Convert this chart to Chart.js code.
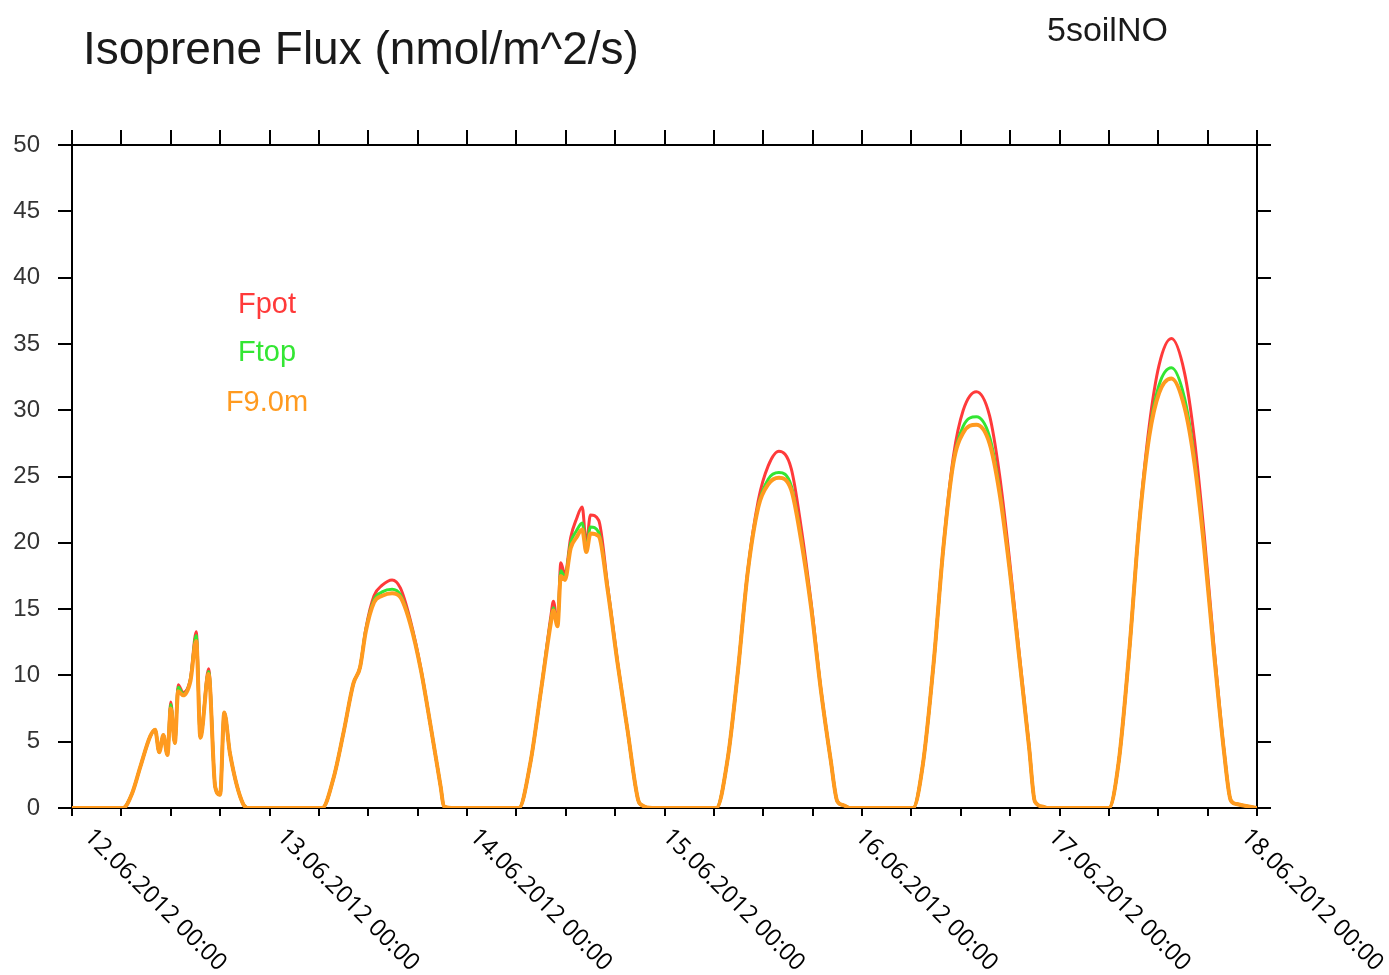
<!DOCTYPE html>
<html>
<head>
<meta charset="utf-8">
<title>Isoprene Flux</title>
<script src="https://cdn.jsdelivr.net/npm/chart.js@4.4.1/dist/chart.umd.min.js"></script>
<style>
  html, body { margin: 0; padding: 0; background: #fff; }
  canvas { display: block; }
</style>
</head>
<body>
<canvas id="flux-chart" width="1389" height="975"></canvas>
<script>
// hours since 12.06.2012 00:00
var hours = [
  0, 6.2, 7.3, 8.3, 9.5, 10.1, 10.6, 11.1, 11.6, 12.0, 12.5, 12.9, 13.5, 14.4, 15.1, 15.6, 16.6, 17.4, 18.0, 18.5, 19.2, 20.8, 21.5,
  30.4, 31.8, 33.0, 34.2, 35.0, 35.7, 36.7, 37.7, 38.9, 39.9, 41.1, 42.4, 43.6, 44.8, 45.2, 46.5,
  54.3, 55.7, 57.0, 58.2, 58.5, 59.0, 59.4, 59.9, 60.6, 61.3, 62.0, 62.5, 63.0, 64.0, 65.1, 66.3, 67.5, 68.8, 69.3, 70.5,
  78.3, 79.7, 80.9, 82.1, 83.4, 84.6, 85.9, 87.4, 88.6, 89.8, 91.0, 92.2, 93.0, 93.8, 94.5,
  102.2, 103.4, 104.7, 105.9, 107.1, 108.3, 109.9, 111.5, 112.7, 113.9, 115.1, 116.3, 117.0, 118.0, 118.6,
  126.0, 127.2, 128.5, 129.7, 130.9, 132.1, 133.6, 135.2, 136.4, 137.6, 138.8, 140.0, 140.8, 141.5, 144
];

var fpot = [
  0, 0, 1.1, 3.1, 5.4, 5.9, 4.2, 5.5, 4.0, 8.0, 4.9, 9.3, 8.7, 9.8, 13.3, 5.3, 10.5, 1.6, 1.0, 7.2, 4.1, 0.3, 0,
  0, 2.3, 5.7, 9.4, 10.6, 13.5, 16.0, 16.8, 17.2, 16.6, 14.2, 10.5, 6.1, 1.6, 0.1, 0,
  0, 3.4, 8.9, 14.5, 15.6, 13.9, 18.5, 17.6, 20.4, 21.8, 22.7, 19.9, 22.1, 21.7, 16.7, 11.0, 5.9, 0.6, 0.2, 0,
  0, 3.8, 10.2, 17.8, 23.2, 25.8, 26.9, 25.6, 21.2, 15.6, 9.0, 3.6, 0.5, 0.2, 0,
  0, 3.3, 10.9, 19.8, 26.5, 30.0, 31.4, 29.6, 25.2, 18.9, 11.7, 4.7, 0.5, 0.1, 0,
  0, 3.5, 12.0, 21.6, 28.8, 33.4, 35.4, 32.8, 27.8, 20.5, 12.0, 4.3, 0.6, 0.3, 0
];

var ftop = [
  0, 0, 1.1, 3.1, 5.4, 5.9, 4.2, 5.5, 4.0, 7.8, 4.9, 9.1, 8.6, 9.7, 13.0, 5.3, 10.3, 1.6, 1.0, 7.2, 4.1, 0.3, 0,
  0, 2.3, 5.7, 9.4, 10.6, 13.4, 15.7, 16.3, 16.5, 16.1, 14.0, 10.4, 6.1, 1.6, 0.1, 0,
  0, 3.4, 8.9, 14.2, 15.1, 13.8, 17.9, 17.4, 20.0, 20.9, 21.5, 19.6, 21.2, 20.8, 16.5, 10.9, 5.9, 0.6, 0.2, 0,
  0, 3.8, 10.2, 17.7, 22.8, 24.8, 25.3, 24.3, 20.4, 15.3, 8.9, 3.6, 0.5, 0.2, 0,
  0, 3.3, 10.9, 19.7, 26.1, 28.8, 29.5, 28.0, 24.1, 18.3, 11.4, 4.6, 0.5, 0.1, 0,
  0, 3.5, 12.0, 21.5, 28.2, 31.9, 33.2, 30.9, 26.4, 19.7, 11.6, 4.2, 0.6, 0.3, 0
];

var f9m = [
  0, 0, 1.1, 3.1, 5.4, 5.9, 4.2, 5.5, 4.0, 7.5, 4.9, 8.8, 8.5, 9.6, 12.6, 5.3, 10.1, 1.6, 1.0, 7.2, 4.1, 0.3, 0,
  0, 2.3, 5.7, 9.4, 10.6, 13.3, 15.5, 16.0, 16.2, 15.9, 13.9, 10.4, 6.1, 1.6, 0.1, 0,
  0, 3.4, 8.9, 14.0, 14.9, 13.7, 17.5, 17.2, 19.6, 20.4, 21.0, 19.3, 20.7, 20.5, 16.4, 10.9, 5.9, 0.6, 0.2, 0,
  0, 3.8, 10.2, 17.7, 22.7, 24.4, 24.9, 24.0, 20.2, 15.2, 8.9, 3.6, 0.5, 0.2, 0,
  0, 3.3, 10.9, 19.7, 26.0, 28.3, 28.9, 27.5, 23.8, 18.2, 11.4, 4.6, 0.5, 0.1, 0,
  0, 3.5, 12.0, 21.5, 28.0, 31.3, 32.4, 30.2, 26.0, 19.5, 11.5, 4.2, 0.6, 0.3, 0
];

var seriesNames = ["Fpot", "Ftop", "F9.0m"];
var seriesColors = ["#ff3a3a", "#33e633", "#ff9a1f"];
var dayLabels = [
  "12.06.2012 00:00", "13.06.2012 00:00", "14.06.2012 00:00", "15.06.2012 00:00",
  "16.06.2012 00:00", "17.06.2012 00:00", "18.06.2012 00:00"
];

function toPoints(values) {
  return hours.map(function (h, i) { return { x: h, y: values[i] }; });
}

// titles, legend text and slanted date labels
var textPlugin = {
  id: "texts",
  afterDraw: function (chart) {
    var ctx = chart.ctx;
    var xs = chart.scales.x;
    ctx.save();
    ctx.fillStyle = "#1a1a1a";
    ctx.textBaseline = "alphabetic";
    ctx.textAlign = "left";
    ctx.font = "46px 'Liberation Sans', Arial, sans-serif";
    ctx.fillText("Isoprene Flux (nmol/m^2/s)", 83, 64);
    ctx.font = "34px 'Liberation Sans', Arial, sans-serif";
    ctx.fillText("5soilNO", 1047, 41);

    ctx.textAlign = "center";
    ctx.font = "29px 'Liberation Sans', Arial, sans-serif";
    var legendY = [313, 361, 411];
    seriesNames.forEach(function (name, i) {
      ctx.fillStyle = seriesColors[i];
      ctx.fillText(name, 267, legendY[i]);
    });

    ctx.fillStyle = "#000";
    ctx.font = "24px 'Open Sans', 'Noto Sans', sans-serif";
    ctx.textAlign = "left";
    ctx.textBaseline = "middle";
    dayLabels.forEach(function (label, i) {
      var px = xs.getPixelForValue(i * 24) + 16 - 4.7 * i;
      ctx.save();
      ctx.translate(px, xs.top + 25);
      ctx.rotate(Math.PI / 4);
      ctx.fillText(label, 0, 0);
      ctx.restore();
    });
    ctx.restore();
  }
};

var tickGrid = function (len) {
  return {
    drawOnChartArea: false,
    drawTicks: true,
    tickLength: len,
    tickColor: "#000",
    lineWidth: 2,
    color: "#000"
  };
};
var axisBorder = { display: true, color: "#000", width: 2 };

var ctx = document.getElementById("flux-chart").getContext("2d");
var fluxChart = new Chart(ctx, {
  type: "line",
  data: {
    datasets: [
      {
        label: seriesNames[0],
        data: toPoints(fpot),
        borderColor: seriesColors[0],
        borderWidth: 3,
        order: 3
      },
      {
        label: seriesNames[1],
        data: toPoints(ftop),
        borderColor: seriesColors[1],
        borderWidth: 3,
        order: 2
      },
      {
        label: seriesNames[2],
        data: toPoints(f9m),
        borderColor: seriesColors[2],
        borderWidth: 4,
        order: 1
      }
    ]
  },
  options: {
    responsive: false,
    animation: false,
    devicePixelRatio: 1,
    layout: { padding: { top: 130, left: 0, right: 0, bottom: 0 } },
    elements: {
      point: { radius: 0 },
      line: { cubicInterpolationMode: "monotone", fill: false, borderJoinStyle: "round", borderCapStyle: "round" }
    },
    plugins: {
      legend: { display: false },
      tooltip: { enabled: false }
    },
    scales: {
      x: {
        type: "linear",
        position: "bottom",
        min: 0,
        max: 144,
        grid: tickGrid(8),
        border: axisBorder,
        ticks: { display: false, stepSize: 6, autoSkip: false },
        afterFit: function (s) { s.height = 167; }
      },
      x2: {
        type: "linear",
        position: "top",
        min: 0,
        max: 144,
        grid: tickGrid(15),
        border: axisBorder,
        ticks: { display: false, stepSize: 6, autoSkip: false },
        afterFit: function (s) { s.height = 15; }
      },
      y: {
        position: "left",
        min: 0,
        max: 50,
        grid: tickGrid(14),
        border: axisBorder,
        ticks: {
          stepSize: 5,
          padding: 18,
          color: "#333",
          font: { family: "'Liberation Sans', Arial, sans-serif", size: 24 }
        },
        afterFit: function (s) { s.width = 72; }
      },
      y2: {
        position: "right",
        min: 0,
        max: 50,
        grid: tickGrid(14),
        border: axisBorder,
        ticks: { display: false, stepSize: 5 },
        afterFit: function (s) { s.width = 132; }
      }
    }
  },
  plugins: [textPlugin]
});
</script>
</body>
</html>
